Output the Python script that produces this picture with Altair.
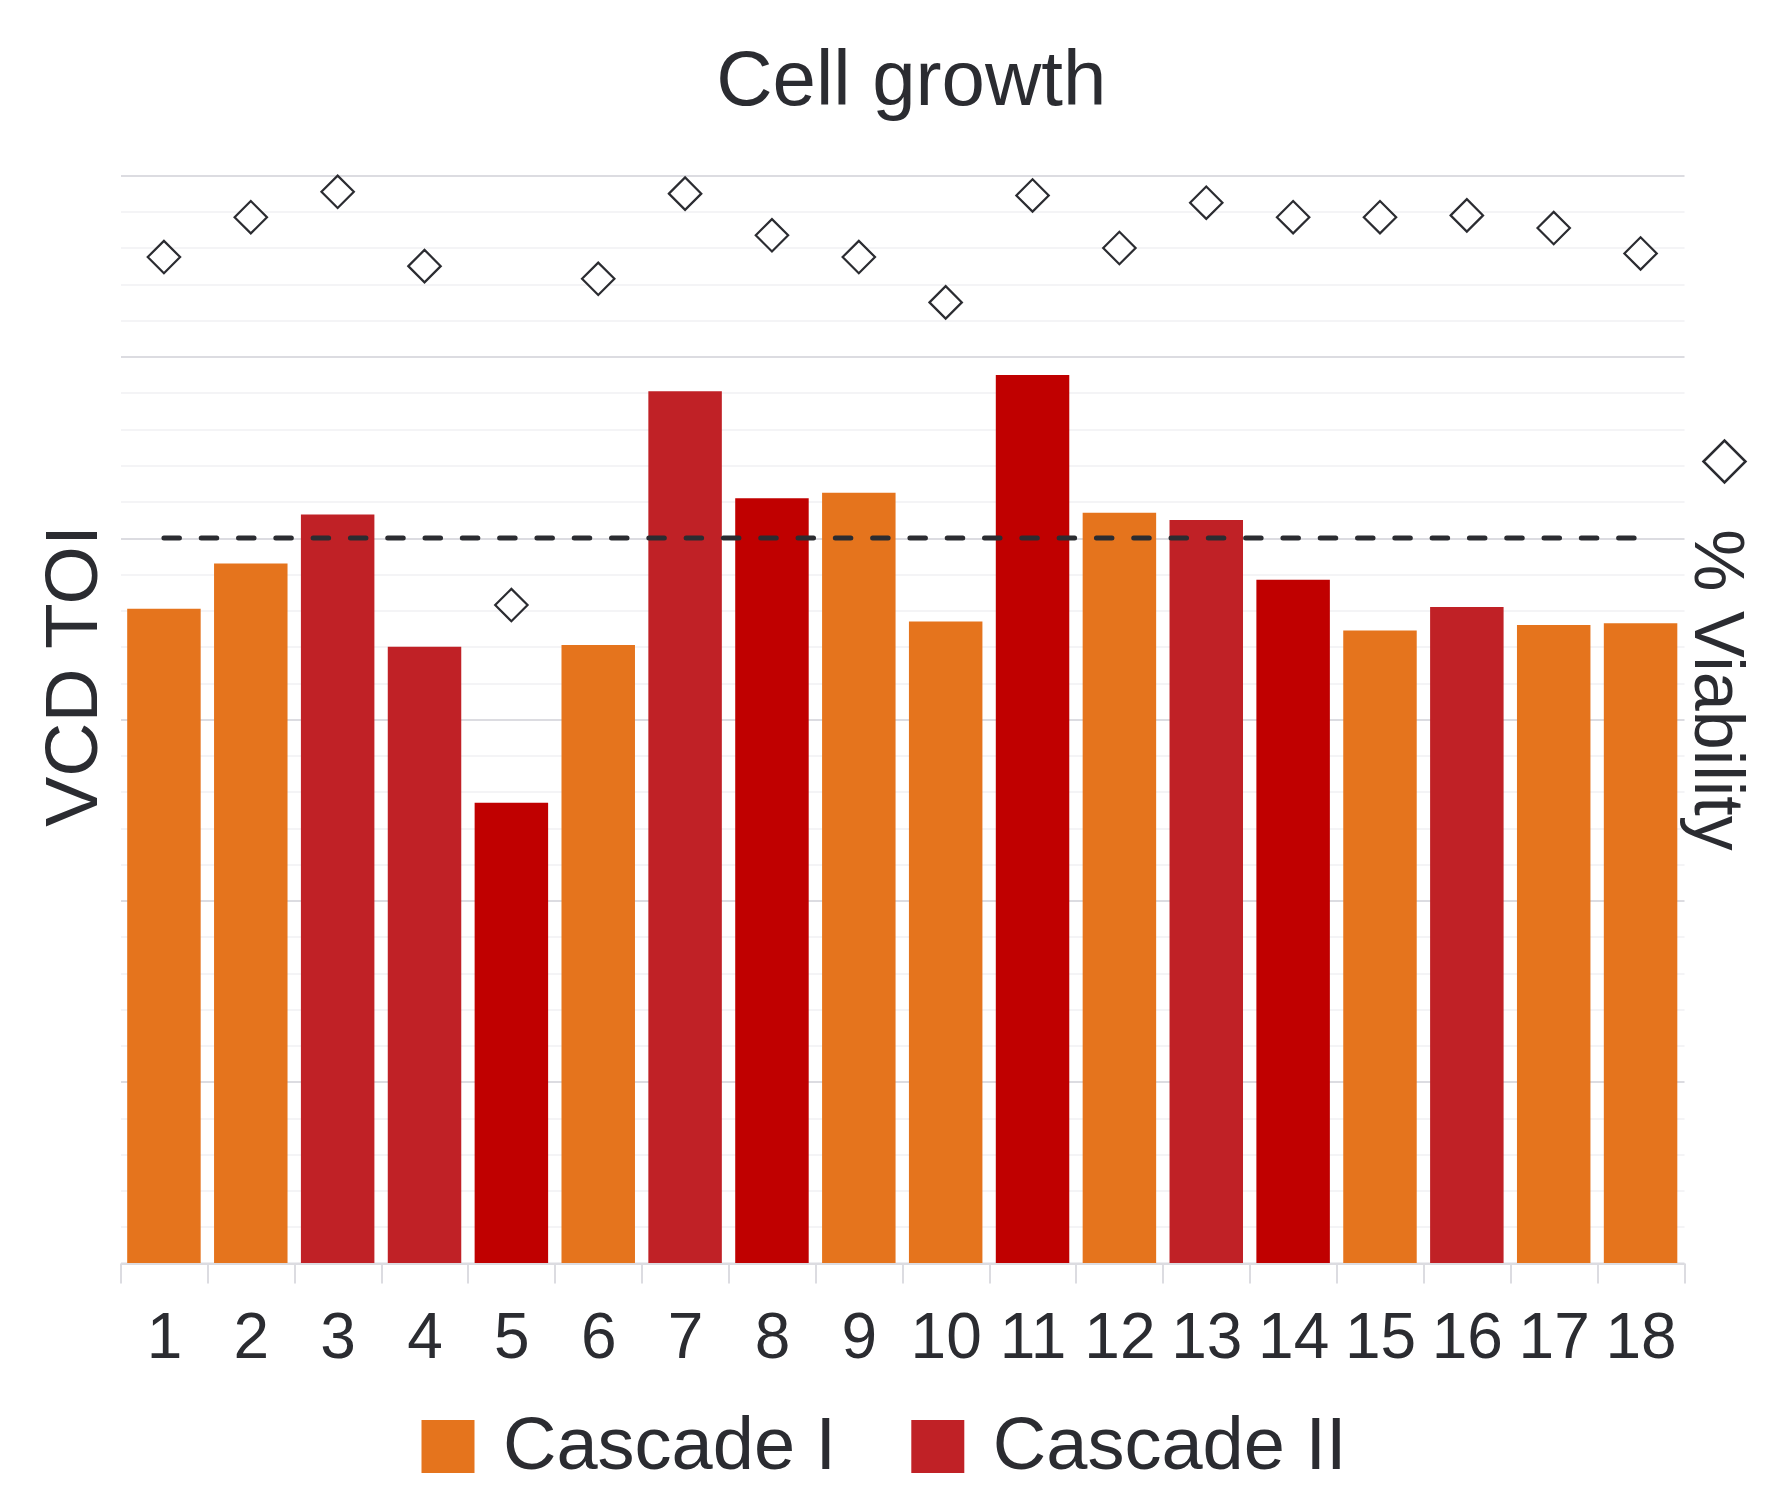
import altair as alt
import pandas as pd

# ---- data ----
runs = [str(i) for i in range(1, 19)]
vcd = [3.61, 3.86, 4.13, 3.40, 2.54, 3.41, 4.81, 4.22, 4.25, 3.54,
       4.90, 4.14, 4.10, 3.77, 3.49, 3.62, 3.52, 3.53]
viability = [95.5, 97.7, 99.1, 95.0, 76.3, 94.3, 99.0, 96.7, 95.5, 93.0,
             98.9, 96.0, 98.5, 97.7, 97.7, 97.8, 97.1, 95.7]
groups = ["Cascade I", "Cascade I", "Cascade II", "Cascade II", "Cascade II (selected)",
          "Cascade I", "Cascade II", "Cascade II (selected)", "Cascade I", "Cascade I",
          "Cascade II (selected)", "Cascade I", "Cascade II", "Cascade II (selected)",
          "Cascade I", "Cascade II", "Cascade I", "Cascade I"]
target_vcd = 4.0

group_domain = ["Cascade I", "Cascade II", "Cascade II (selected)"]
group_colors = ["#E5741D", "#C02126", "#C00000"]
legend_values = ["Cascade I", "Cascade II"]

TEXT = "#2b2c31"
FONT = "Liberation Sans"

df = pd.DataFrame({
    "run": runs,
    "vcd": vcd,
    "viability": viability,
    "group": groups,
    "target": [target_vcd] * len(runs),
    "series": ["% Viability"] * len(runs),
})

minor_grid = [v for v in range(42, 100, 2) if v % 10 != 0]

x_enc = alt.X(
    "run:N",
    sort=runs,
    scale=alt.Scale(paddingInner=0, paddingOuter=0),
    axis=alt.Axis(
        title=None, labelAngle=0, labelFontSize=64, labelFont=FONT, labelColor=TEXT,
        labelPadding=23, tickSize=20, tickColor="#dcdce1", tickWidth=2,
        domainColor="#dcdce1", domainWidth=2, tickBand="extent", grid=False,
    ),
)

base = alt.Chart(df).encode(x=x_enc)

bars = base.mark_bar(width=alt.RelativeBandSize(0.846)).encode(
    y=alt.Y(
        "vcd:Q",
        scale=alt.Scale(domain=[0, 6], nice=False, zero=True),
        axis=alt.Axis(
            values=[0, 1, 2, 3, 4, 5, 6], grid=True, gridColor="#dcdce1", gridWidth=2,
            labels=False, ticks=False, domain=False,
            title="VCD TOI", titleFontSize=75, titleFont=FONT, titleFontWeight="normal",
            titleColor=TEXT, titleAngle=270, titleX=-24.5, titleY=500,
            titleAlign="center", titleBaseline="alphabetic",
        ),
    ),
    color=alt.Color(
        "group:N",
        scale=alt.Scale(domain=group_domain, range=group_colors),
        legend=alt.Legend(
            values=legend_values, title=None, orient="none", direction="horizontal",
            legendX=290.5, legendY=1234, symbolType="square", symbolSize=2809,
            symbolStrokeWidth=0, symbolOpacity=1, labelFontSize=74, labelFont=FONT,
            labelColor=TEXT, labelLimit=1000, labelOffset=18, columnPadding=63.8, padding=0,
        ),
    ),
)

target_line = base.mark_line(
    color=TEXT, strokeWidth=5, strokeDash=[15.5, 21.8], strokeCap="round"
).encode(
    y=alt.Y("target:Q", scale=alt.Scale(domain=[0, 6], nice=False, zero=True), axis=None),
)

diamonds = base.mark_point(
    shape="diamond", filled=False, fill="white", strokeWidth=2.2, size=1050, opacity=1
).encode(
    y=alt.Y(
        "viability:Q",
        scale=alt.Scale(domain=[40, 100], nice=False, zero=False),
        axis=alt.Axis(
            orient="right", values=minor_grid, grid=True, gridColor="#f0f0f3", gridWidth=1.5,
            labels=False, ticks=False, domain=False,
            title="% Viability", titleFontSize=70, titleFont=FONT, titleFontWeight="normal",
            titleColor=TEXT, titleAngle=90, titleX=10, titleY=514,
            titleAlign="center", titleBaseline="alphabetic",
        ),
    ),
    stroke=alt.Stroke(
        "series:N",
        scale=alt.Scale(range=[TEXT]),
        legend=alt.Legend(
            title=None, orient="none", legendX=1581.5, legendY=263.5,
            symbolType="diamond", symbolSize=1764, symbolFillColor="white",
            symbolStrokeWidth=2.5, symbolOpacity=1, labelExpr="''",
            padding=0, labelFontSize=1, labelOffset=0,
        ),
    ),
)

chart = alt.layer(bars, target_line, diamonds).resolve_scale(
    y="independent"
).properties(
    width=1563.5,
    height=1087.5,
    autosize=alt.AutoSizeParams(type="none"),
    padding={"left": 112.5, "top": 167.5, "right": 74, "bottom": 223},
    background="white",
    title=alt.TitleParams(
        "Cell growth", fontSize=78, font=FONT, fontWeight="normal", color=TEXT,
        anchor="middle", offset=-11.5, baseline="alphabetic", dx=9,
    ),
).configure_view(stroke="transparent", strokeWidth=0)

chart.save("out.html", embed_options={"renderer": "svg", "actions": False})
